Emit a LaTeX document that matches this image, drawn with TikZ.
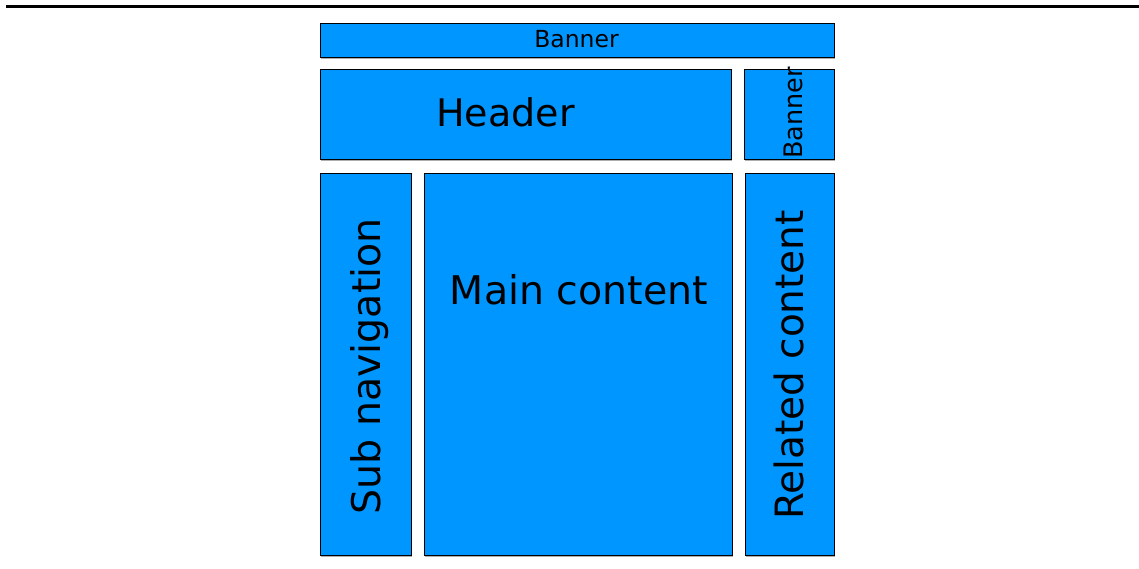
\documentclass[tikz,border=0pt]{standalone}
\usepackage{fontspec}
\setmainfont{DejaVu Sans}
\usetikzlibrary{shadows}
\definecolor{layoutblue}{RGB}{0,150,255}
\tikzset{
  region/.style={draw=black, line width=1pt, fill=layoutblue, inner sep=0pt,
    drop shadow={shadow xshift=0.9pt, shadow yshift=-0.9pt, fill=black!40, opacity=0.8}},
  caption/.style={anchor=base, inner sep=0pt, text=black}
}
\begin{document}
\begin{tikzpicture}[x=1pt,y=1pt]
		\useasboundingbox (0,0) rectangle (1139,569);
		\coordinate (ruleL) at (6,562.5);
		\coordinate (ruleR) at (1139,562.5);
		\draw[line width=2.2pt] (ruleL) -- (ruleR);

		% page regions
		\node[region, minimum width=514.5pt, minimum height=34pt] (banner) at (577.25,528) {};
		\node[region, minimum width=411pt, minimum height=90pt] (header) at (525.5,454) {};
		\node[region, minimum width=90.5pt, minimum height=90pt] (sidebanner) at (789.25,454) {};
		\node[region, minimum width=91pt, minimum height=382pt] (subnav) at (365.5,204) {};
		\node[region, minimum width=308pt, minimum height=382pt] (main) at (578,204) {};
		\node[region, minimum width=89.5pt, minimum height=382pt] (related) at (789.75,204) {};

		% labels
		\node[caption, font=\fontsize{23.5}{28}\selectfont] (bannertext) at (576.5,521.7) {Banner};
		\node[caption, font=\fontsize{38}{45}\selectfont] (headertext) at (505.5,442.3) {Header};
		\node[caption, font=\fontsize{25.5}{30}\selectfont, rotate=90] (sidebannertext) at (802,456) {Banner};
		\node[caption, font=\fontsize{39.5}{46}\selectfont, rotate=90] (subnavtext) at (380,202.5) {Sub navigation};
		\node[caption, font=\fontsize{39.5}{46}\selectfont] (maintext) at (579,264) {Main content};
		\node[caption, font=\fontsize{39}{46}\selectfont, rotate=90] (relatedtext) at (803.3,204) {Related content};
\end{tikzpicture}
\end{document}
